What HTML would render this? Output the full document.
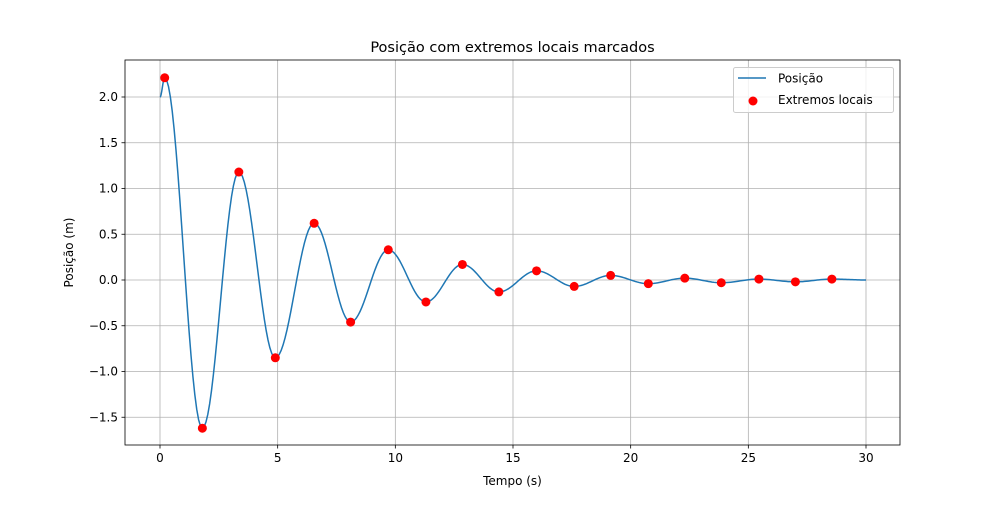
<!DOCTYPE html>
<html><head><meta charset="utf-8"><style>
body{margin:0;background:#fff;}
text{font-family:"DejaVu Sans","Liberation Sans",sans-serif;fill:#000;}
</style></head><body>
<svg id="chart" width="1000" height="500" xmlns="http://www.w3.org/2000/svg"></svg>
<script>
const extremaT = [0.2,1.8,3.35,4.9,6.55,8.1,9.7,11.3,12.85,14.4,16.0,17.6,19.15,20.75,22.3,23.85,25.45,27.0,28.55];
const extremaY = [2.21,-1.62,1.18,-0.85,0.62,-0.46,0.33,-0.24,0.17,-0.13,0.10,-0.07,0.05,-0.04,0.02,-0.03,0.01,-0.02,0.01];
const startPoint = [0, 2.0];
const endPoint = [30, 0.0];
const xTicks = [0,5,10,15,20,25,30];
const yTicks = [-1.5,-1.0,-0.5,0.0,0.5,1.0,1.5,2.0];
const yTickLabels = ["\u22121.5","\u22121.0","\u22120.5","0.0","0.5","1.0","1.5","2.0"];

const L=125,R=900,T=60,B=445;
const sx=t=>160+(t-0)*(866-160)/30;
const sy=v=>280-v*(280-97)/2.0;
const svg=document.getElementById('chart');
const NS='http://www.w3.org/2000/svg';
function mk(tag,attrs,parent){const e=document.createElementNS(NS,tag);for(const k in attrs)e.setAttribute(k,attrs[k]);(parent||svg).appendChild(e);return e;}

// grid and ticks
xTicks.forEach(t=>{
  const g=mk('line',{x1:sx(t),x2:sx(t),y1:T,y2:B,stroke:'#b0b0b0','stroke-width':0.8});
  
  
  mk('line',{x1:sx(t),x2:sx(t),y1:B,y2:B+3.5,stroke:'#000','stroke-width':0.8});
  const tx=mk('text',{x:sx(t),y:B+17,'font-size':12,'text-anchor':'middle'});tx.textContent=t;
  
  
});
yTicks.forEach((v,i)=>{
  const g=mk('line',{x1:L,x2:R,y1:sy(v),y2:sy(v),stroke:'#b0b0b0','stroke-width':0.8});
  
  
  mk('line',{x1:L-3.5,x2:L,y1:sy(v),y2:sy(v),stroke:'#000','stroke-width':0.8});
  const tx=mk('text',{x:L-7,y:sy(v)+4,'font-size':12,'text-anchor':'end'});tx.textContent=yTickLabels[i];
  
  
});

// line: half-cosine between successive known points
const pts=[startPoint].concat(extremaT.map((t,i)=>[t,extremaY[i]])).concat([endPoint]);
let d='';
for(let i=0;i<pts.length-1;i++){
  const [t0,y0]=pts[i],[t1,y1]=pts[i+1];
  for(let k=0;k<=20;k++){
    const f=k/20,t=t0+(t1-t0)*f,y=y0+(y1-y0)*(1-Math.cos(Math.PI*f))/2;
    d+=(d?'L':'M')+sx(t).toFixed(2)+','+sy(y).toFixed(2);
  }
}
const line=mk('path',{d:d,fill:'none',stroke:'#1f77b4','stroke-width':1.5});



extremaT.forEach((t,i)=>{
  const c=mk('circle',{cx:sx(t),cy:sy(extremaY[i]),r:4.5,fill:'#ff0000'});
  
  
});

const frame=mk('rect',{x:L,y:T,width:R-L,height:B-T,fill:'none',stroke:'#000','stroke-width':0.8});



const title=mk('text',{x:512.5,y:52,'font-size':14.5,'text-anchor':'middle'});title.textContent='Posição com extremos locais marcados';


const xl=mk('text',{x:512.5,y:485,'font-size':12,'text-anchor':'middle'});xl.textContent='Tempo (s)';


const yl=mk('text',{x:73,y:252.5,'font-size':12,'text-anchor':'middle',transform:'rotate(-90 73 252.5)'});yl.textContent='Posição (m)';



// legend
const lg=mk('g',{});


mk('rect',{x:733.5,y:67.5,width:160,height:45,rx:2,fill:'#fff','fill-opacity':0.8,stroke:'#ccc'},lg);
mk('line',{x1:738,x2:766,y1:78,y2:78,stroke:'#1f77b4','stroke-width':1.5},lg);
const t1=mk('text',{x:778,y:82.5,'font-size':12},lg);t1.textContent='Posição';


mk('circle',{cx:753,cy:101,r:4.5,fill:'#ff0000'},lg);
const t2=mk('text',{x:778,y:104,'font-size':12},lg);t2.textContent='Extremos locais';


</script>
</body></html>
